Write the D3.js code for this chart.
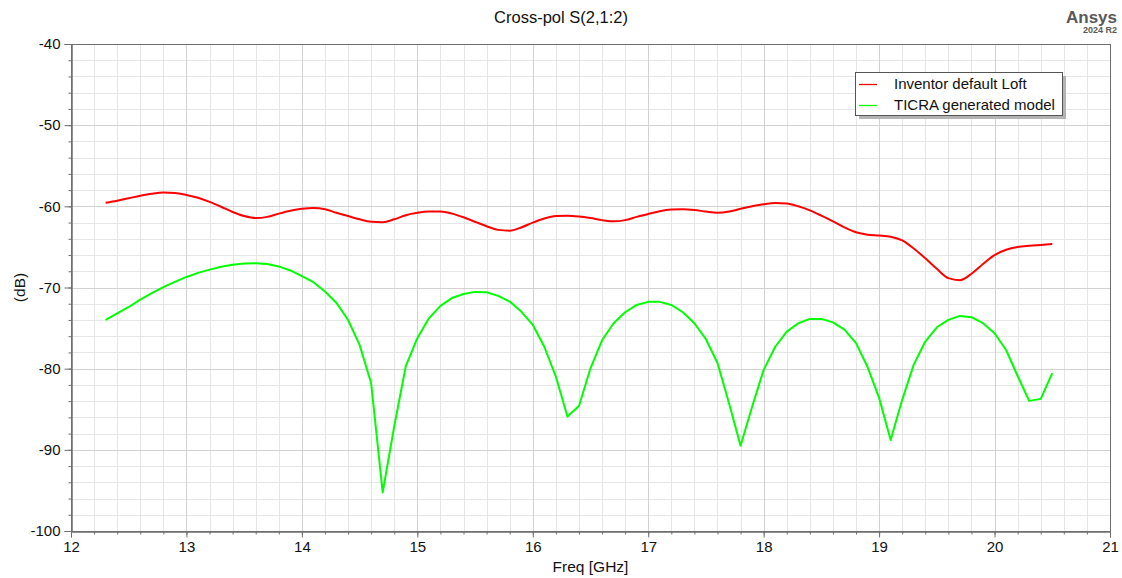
<!DOCTYPE html>
<html><head><meta charset="utf-8">
<script src="https://cdn.jsdelivr.net/npm/d3@7"></script>
<style>body{margin:0;background:#fff;} svg{display:block;font-family:"Liberation Sans",Arial,sans-serif;}</style>
</head><body>
<svg id="c" width="1122" height="578"></svg>
<script>
const freq = d3.range(0, 83).map(i => +(12.3 + i * 0.1).toFixed(1));
const seriesNames = ["Inventor default Loft", "TICRA generated model"];
const seriesColors = ["#ff0000", "#00ff00"];
const inventorLoft = [
-59.55,-59.3,-59.0,-58.7,-58.45,-58.3,-58.35,-58.6,-58.95,-59.45,
-60.05,-60.7,-61.2,-61.45,-61.3,-60.9,-60.55,-60.3,-60.2,-60.35,
-60.8,-61.2,-61.6,-61.9,-61.95,-61.6,-61.1,-60.8,-60.65,-60.65,
-60.9,-61.35,-61.9,-62.45,-62.9,-63.0,-62.6,-62.0,-61.5,-61.2,
-61.15,-61.25,-61.45,-61.7,-61.85,-61.7,-61.3,-60.95,-60.6,-60.4,
-60.35,-60.45,-60.65,-60.8,-60.65,-60.3,-60.0,-59.75,-59.6,-59.65,
-60.0,-60.5,-61.15,-61.85,-62.6,-63.2,-63.5,-63.6,-63.75,-64.2,
-65.2,-66.4,-67.7,-68.85,-69.1,-68.3,-67.1,-66.0,-65.35,-65.0,
-64.85,-64.75,-64.65];
const ticraModel = [
-74.0,-73.2,-72.4,-71.5,-70.7,-69.95,-69.3,-68.7,-68.2,-67.8,
-67.45,-67.2,-67.05,-67.0,-67.1,-67.4,-67.9,-68.6,-69.35,-70.5,
-71.9,-74.0,-77.07,-81.8,-95.25,-87.1,-79.7,-76.25,-73.8,-72.27,
-71.3,-70.8,-70.54,-70.58,-71.03,-71.73,-72.97,-74.6,-77.3,-80.97,
-85.9,-84.6,-79.95,-76.5,-74.4,-73.05,-72.15,-71.77,-71.77,-72.15,
-73.05,-74.4,-76.37,-79.3,-84.25,-89.5,-84.7,-80.15,-77.3,-75.43,
-74.4,-73.87,-73.87,-74.3,-75.2,-76.86,-79.8,-83.6,-88.8,-83.84,
-79.5,-76.66,-74.9,-73.99,-73.5,-73.66,-74.4,-75.63,-77.7,-80.9,
-83.97,-83.72,-80.56];
const xTicks = [12,13,14,15,16,17,18,19,20,21];
const yTicks = [-100,-90,-80,-70,-60,-50,-40];
const title = "Cross-pol S(2,1:2)";
const xLabel = "Freq [GHz]";
const yLabel = "(dB)";

const svg = d3.select("#c");
const L = 71, R = 1110, T = 44, B = 531;
const x = d3.scaleLinear().domain([12, 21]).range([L, R]);
const y = d3.scaleLinear().domain([-100, -40]).range([B, T]);

const minorX = d3.range(12, 21.001, 0.2);
const minorY = d3.range(-100, -39.999, 2);
const g = svg.append("g");
g.selectAll(".mx").data(minorX).enter().append("line")
 .attr("x1", d => Math.round(x(d)) + 0.5).attr("x2", d => Math.round(x(d)) + 0.5)
 .attr("y1", T).attr("y2", B).attr("stroke", "#e6e6e6").attr("stroke-width", 1);
g.selectAll(".my").data(minorY).enter().append("line")
 .attr("y1", d => Math.round(y(d)) + 0.5).attr("y2", d => Math.round(y(d)) + 0.5)
 .attr("x1", L).attr("x2", R).attr("stroke", "#e6e6e6").attr("stroke-width", 1);
g.selectAll(".Mx").data(xTicks).enter().append("line")
 .attr("x1", d => Math.round(x(d)) + 0.5).attr("x2", d => Math.round(x(d)) + 0.5)
 .attr("y1", T).attr("y2", B).attr("stroke", "#d2d2d2").attr("stroke-width", 1);
g.selectAll(".My").data(yTicks).enter().append("line")
 .attr("y1", d => Math.round(y(d)) + 0.5).attr("y2", d => Math.round(y(d)) + 0.5)
 .attr("x1", L).attr("x2", R).attr("stroke", "#d2d2d2").attr("stroke-width", 1);

svg.append("rect").attr("x", L + 0.5).attr("y", T + 0.5).attr("width", R - L).attr("height", B - T)
 .attr("fill", "none").attr("stroke", "#6e6e6e").attr("stroke-width", 1);

const fmt = d => String(d);
const xAxisMinor = d3.axisBottom(x).tickValues(minorX).tickSize(3).tickFormat("");
const xAxis = d3.axisBottom(x).tickValues(xTicks).tickSize(6).tickPadding(4).tickFormat(fmt);
const yAxisMinor = d3.axisLeft(y).tickValues(minorY).tickSize(3).tickFormat("");
const yAxis = d3.axisLeft(y).tickValues(yTicks).tickSize(7).tickPadding(4).tickFormat(fmt);
function style(sel) {
  sel.select(".domain").attr("stroke", "#6e6e6e");
  sel.selectAll(".tick line").attr("stroke", "#6e6e6e");
  sel.selectAll("text").attr("font-size", 15).attr("fill", "#111").attr("font-family", '"Liberation Sans",Arial,sans-serif');
}
svg.append("g").attr("transform", `translate(0,${B + 0.5})`).call(xAxisMinor).call(style);
svg.append("g").attr("transform", `translate(0,${B + 0.5})`).call(xAxis).call(style);
svg.append("g").attr("transform", `translate(${L + 0.5},0)`).call(yAxisMinor).call(style);
svg.append("g").attr("transform", `translate(${L + 0.5},0)`).call(yAxis).call(style);

const line = d3.line().x((d, i) => x(freq[i])).y(d => y(d));
const lineSmooth = d3.line().x((d, i) => x(freq[i])).y(d => y(d)).curve(d3.curveMonotoneX);
svg.append("path").datum(ticraModel).attr("d", line).attr("fill", "none")
 .attr("stroke", seriesColors[1]).attr("stroke-width", 2).attr("stroke-linejoin", "round");
svg.append("path").datum(inventorLoft).attr("d", lineSmooth).attr("fill", "none")
 .attr("stroke", seriesColors[0]).attr("stroke-width", 2).attr("stroke-linejoin", "round");

svg.append("text").attr("x", 561).attr("y", 23).attr("text-anchor", "middle").attr("font-size", 16.5).attr("fill", "#111").text(title);
svg.append("text").attr("x", (L + R) / 2).attr("y", 572).attr("text-anchor", "middle").attr("font-size", 15.5).attr("fill", "#111").text(xLabel);
svg.append("text").attr("transform", `translate(25,${(T + B) / 2}) rotate(-90)`).attr("text-anchor", "middle").attr("font-size", 15.5).attr("fill", "#111").text(yLabel);

svg.append("text").attr("x", 1117).attr("y", 23).attr("text-anchor", "end").attr("font-size", 17).attr("font-weight", "bold").attr("fill", "#595959").text("Ansys");
svg.append("text").attr("x", 1117).attr("y", 33).attr("text-anchor", "end").attr("font-size", 9).attr("font-weight", "bold").attr("fill", "#595959").text("2024 R2");

const lg = svg.append("g");
const lx = 855, ly = 72, lw = 207, lh = 43;
lg.append("rect").attr("x", lx + 4).attr("y", ly + 4).attr("width", lw).attr("height", lh).attr("fill", "#b4b4b4");
lg.append("rect").attr("x", lx + 0.5).attr("y", ly + 0.5).attr("width", lw).attr("height", lh).attr("fill", "#fff").attr("stroke", "#555");
seriesNames.forEach((n, i) => {
  const yy = ly + 12 + i * 21;
  lg.append("line").attr("x1", lx + 4).attr("x2", lx + 22).attr("y1", yy + 0.5).attr("y2", yy + 0.5).attr("stroke", seriesColors[i]).attr("stroke-width", 1.3);
  lg.append("text").attr("x", lx + 39).attr("y", yy + 5).attr("font-size", 15).attr("fill", "#111").text(n);
});
</script>
</body></html>
